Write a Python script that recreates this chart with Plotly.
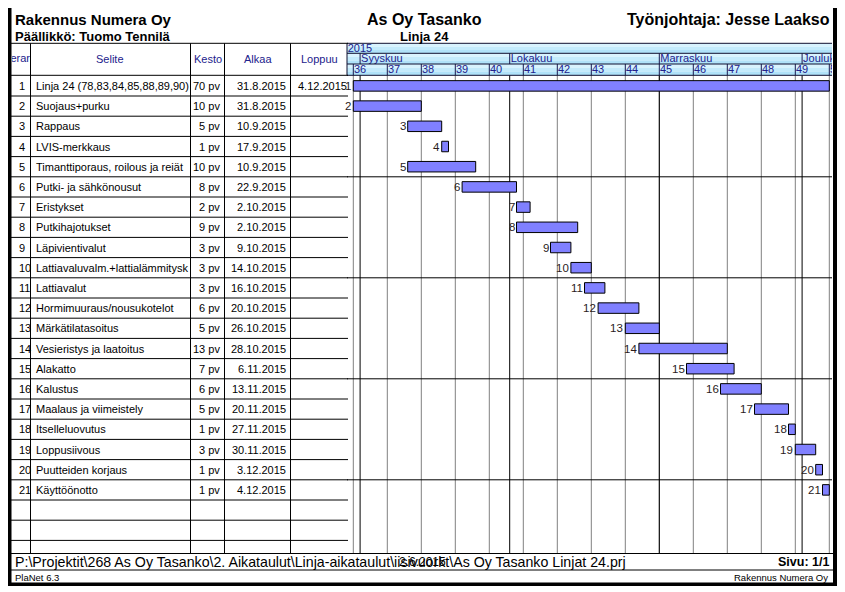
import numpy as np
import plotly.graph_objects as go
from datetime import date

# ---------------- data ----------------
row_ids = list(range(1, 22))
tasks = [
    "Linja 24 (78,83,84,85,88,89,90)", "Suojaus+purku", "Rappaus", "LVIS-merkkaus",
    "Timanttiporaus, roilous ja reiät", "Putki- ja sähkönousut", "Eristykset",
    "Putkihajotukset", "Läpivientivalut", "Lattiavaluvalm.+lattialämmitysk",
    "Lattiavalut", "Hormimuuraus/nousukotelot", "Märkätilatasoitus",
    "Vesieristys ja laatoitus", "Alakatto", "Kalustus", "Maalaus ja viimeistely",
    "Itselleluovutus", "Loppusiivous", "Puutteiden korjaus", "Käyttöönotto",
]
durations = [70, 10, 5, 1, 10, 8, 2, 9, 3, 3, 3, 6, 5, 13, 7, 6, 5, 1, 3, 1, 1]
start_dates = [
    "31.8.2015", "31.8.2015", "10.9.2015", "17.9.2015", "10.9.2015", "22.9.2015",
    "2.10.2015", "2.10.2015", "9.10.2015", "14.10.2015", "16.10.2015", "20.10.2015",
    "26.10.2015", "28.10.2015", "6.11.2015", "13.11.2015", "20.11.2015", "27.11.2015",
    "30.11.2015", "3.12.2015", "4.12.2015",
]
end_dates = ["4.12.2015"] + [""] * 20
column_headers = ["Hierarkia", "Selite", "Kesto", "Alkaa", "Loppuu"]
year_label = "2015"
month_labels = ["Syyskuu", "Lokakuu", "Marraskuu", "Joulukuu"]
month_first_days = ["1.9.2015", "1.10.2015", "1.11.2015", "1.12.2015"]
week_labels = ["36", "37", "38", "39", "40", "41", "42", "43", "44", "45",
               "46", "47", "48", "49", "50"]
duration_unit = "pv"

title_left = "Rakennus Numera Oy"
subtitle_left = "Päällikkö: Tuomo Tennilä"
title_center = "As Oy Tasanko"
subtitle_center = "Linja 24"
title_right = "Työnjohtaja: Jesse Laakso"
footer_path = "P:\\Projektit\\268 As Oy Tasanko\\2. Aikataulut\\Linja-aikataulut\\iisivuorkt\\As Oy Tasanko Linjat 24.prj"
footer_date = "2.6.2015"
footer_page = "Sivu: 1/1"
footer_app = "PlaNet 6.3"
footer_company = "Rakennus Numera Oy"

# ---------------- helpers ----------------
def to_date(s):
    d, m, y = (int(v) for v in s.split("."))
    return np.datetime64(date(y, m, d), "D")

origin = to_date(start_dates[0])

def workday(dt):
    return int(np.busday_count(origin, dt))

start_idx = [workday(to_date(s)) for s in start_dates]
week_idx = [workday(np.datetime64(date.fromisocalendar(int(year_label), int(w), 1), "D"))
            for w in week_labels]
month_idx = [workday(to_date(s)) for s in month_first_days]

# ---------------- geometry (screen pixels) ----------------
OFF = 8                      # page body margin of the browser
FW, FH = 845 - OFF, 592 - OFF
FONT = "Liberation Sans, Arial, sans-serif"
NAVY = "#22228c"
GX0, GX1 = 347.0, 832.0
DAY0_PX, DAY_PX = 353.3, 6.8
ROW_TOP, ROW_H = 75.8, 20.2
HDR_TOP, HDR_M, HDR_W, HDR_BOT = 43.3, 53.3, 64.0, 75.3
BODY_BOT = 553.5
TBL_X1 = 348.0

def dx(p):
    return (p - OFF) / FW

def dy(p):
    return 1 - (p - OFF) / FH

def ru(p):
    return (p - ROW_TOP) / ROW_H + 0.5

def row_px(k):
    return ROW_TOP + (k - 0.5) * ROW_H

x_range = [(GX0 - DAY0_PX) / DAY_PX, (GX1 - DAY0_PX) / DAY_PX]
y_range = [ru(BODY_BOT), ru(HDR_TOP)]

fig = go.Figure()

# bars
fig.add_trace(go.Bar(
    y=row_ids, x=durations, base=start_idx, orientation="h", width=0.52,
    marker=dict(color="#8080ff", line=dict(color="black", width=1)),
    xaxis="x", yaxis="y", hoverinfo="skip", showlegend=False,
))

# header labels of gantt (clipped to gantt area)
hdr_x = [x_range[0] + 0.1] + [m + 0.15 for m in month_idx] + [w + 0.1 for w in week_idx]
hdr_y = [ru((HDR_TOP + HDR_M) / 2 + 0.5)] + [ru((HDR_M + HDR_W) / 2 + 0.3)] * len(month_idx) + \
        [ru((HDR_W + HDR_BOT) / 2 + 0.2)] * len(week_idx)
hdr_t = [year_label] + month_labels + week_labels
fig.add_trace(go.Scatter(
    x=hdr_x, y=hdr_y, text=hdr_t, mode="text", textposition="middle right",
    textfont=dict(family=FONT, size=11, color=NAVY), cliponaxis=True,
    xaxis="x", yaxis="y", hoverinfo="skip", showlegend=False,
))

# pixel overlay axis
fig.add_trace(go.Scatter(x=[OFF], y=[OFF], mode="markers", marker=dict(opacity=0),
                         xaxis="x2", yaxis="y2", hoverinfo="skip", showlegend=False))

# clipped first column header
fig.add_trace(go.Scatter(
    x=[22], y=[(HDR_TOP + HDR_BOT) / 2], text=[column_headers[0]], mode="text",
    textposition="middle center", textfont=dict(family=FONT, size=11, color=NAVY),
    cliponaxis=True, xaxis="x3", yaxis="y3", hoverinfo="skip", showlegend=False,
))

shapes = []
annotations = []

def pline(x0, y0, x1, y1, color="black", width=1, layer="above"):
    shapes.append(dict(type="line", xref="x2", yref="y2", x0=x0, y0=y0, x1=x1, y1=y1,
                       line=dict(color=color, width=width), layer=layer))

def prect(x0, y0, x1, y1, fill, layer="above"):
    shapes.append(dict(type="rect", xref="x2", yref="y2", x0=x0, y0=y0, x1=x1, y1=y1,
                       fillcolor=fill, line=dict(width=0), layer=layer))

def ptext(x, y, text, anchor="left", size=11, color="black", bold=False):
    annotations.append(dict(xref="x2", yref="y2", x=x, y=y, text=("<b>%s</b>" % text) if bold else text,
                            showarrow=False, xanchor=anchor, yanchor="middle",
                            font=dict(family=FONT, size=size, color=color)))

# gantt header background strips (inside gantt subplot, beneath its texts)
strip_cols = ["#d8f3fe", "#c4ebfc", "#b0e2f9"]
for (a, b) in [(HDR_TOP, HDR_M), (HDR_M, HDR_W), (HDR_W, HDR_BOT)]:
    n = len(strip_cols)
    for i, c in enumerate(strip_cols):
        shapes.append(dict(type="rect", xref="x", yref="y", x0=x_range[0], x1=x_range[1],
                           y0=ru(a + (b - a) * i / n), y1=ru(a + (b - a) * (i + 1) / n),
                           fillcolor=c, line=dict(width=0), layer="below"))

# body grid (gantt coords)
for w in week_idx:
    shapes.append(dict(type="line", xref="x", yref="y", x0=w, x1=w, y0=ru(HDR_BOT), y1=ru(BODY_BOT),
                       line=dict(color="#808080", width=1), layer="below"))
    shapes.append(dict(type="line", xref="x", yref="y", x0=w, x1=w, y0=ru(HDR_W), y1=ru(HDR_BOT),
                       line=dict(color="#1a1a50", width=1), layer="below"))
for m in month_idx:
    shapes.append(dict(type="line", xref="x", yref="y", x0=m, x1=m, y0=ru(HDR_BOT), y1=ru(BODY_BOT),
                       line=dict(color="black", width=1), layer="below"))
    shapes.append(dict(type="line", xref="x", yref="y", x0=m, x1=m, y0=ru(HDR_M), y1=ru(HDR_W),
                       line=dict(color="#1a1a50", width=1), layer="below"))
for k in [5, 10, 15, 20]:
    shapes.append(dict(type="line", xref="x", yref="y", x0=x_range[0], x1=x_range[1],
                       y0=k + 0.5, y1=k + 0.5, line=dict(color="black", width=1), layer="below"))

# gantt header lines
for yy in [HDR_TOP, HDR_M, HDR_W, HDR_BOT]:
    pline(GX0, yy, GX1, yy, color="#101030")
pline(GX0, HDR_TOP, GX0, HDR_BOT, color="#101030")

# table lines
pline(11, HDR_TOP, TBL_X1, HDR_TOP)
pline(11, HDR_BOT, TBL_X1, HDR_BOT)
for k in range(1, 24):
    yy = ROW_TOP + k * ROW_H
    pline(11, yy, TBL_X1, yy)
for xx in [30.5, 190.5, 224.5, 290.5]:
    pline(xx, HDR_TOP, xx, BODY_BOT)

# table header text
hy = (HDR_TOP + HDR_BOT) / 2
for cx, t in zip([110, 207.5, 257.5, 319], column_headers[1:]):
    ptext(cx, hy, t, anchor="center", color=NAVY)

# table rows
BODY_FS = 11
for i, rid in enumerate(row_ids):
    y = row_px(rid)
    ptext(16.5, y, str(rid), anchor="left", size=BODY_FS)
    ptext(33.5, y, tasks[i], anchor="left", size=BODY_FS)
    ptext(222, y, "%d %s" % (durations[i], duration_unit), anchor="right", size=BODY_FS)
    ptext(288, y, start_dates[i], anchor="right", size=BODY_FS)
    if end_dates[i]:
        ptext(349, y, end_dates[i], anchor="right", size=BODY_FS)

# bar number labels
for i, rid in enumerate(row_ids):
    annotations.append(dict(xref="x", yref="y", x=start_idx[i], y=rid, text=str(rid),
                            showarrow=False, xanchor="right", yanchor="middle", xshift=0,
                            font=dict(family=FONT, size=11.5, color="#2a1c1c")))

# titles
ptext(13, 19, title_left, size=15, bold=True)
ptext(13, 36, subtitle_left, size=13, bold=True)
ptext(424, 19, title_center, size=16, bold=True, anchor="center")
ptext(424, 36, subtitle_center, size=13, bold=True, anchor="center")
ptext(832, 19, title_right, size=16, bold=True, anchor="right")

# footer
pline(11, BODY_BOT, 833, BODY_BOT)
pline(11, 570, 833, 570)
ptext(13, 562, footer_path, size=14.2)
ptext(422, 562, footer_date, size=12, anchor="center")
ptext(831, 562, footer_page, size=12.5, bold=True, anchor="right")
ptext(13, 577.5, footer_app, size=9.5)
ptext(830, 577.5, footer_company, size=9.5, anchor="right")

# page frame
prect(8, 4, 11.5, 586, "black")
prect(833, 4, 838, 586, "black")
prect(8, 4, 838, 7.5, "black")
prect(8, 582.5, 838, 586, "black")

hidden = dict(showgrid=False, zeroline=False, showticklabels=False, showline=False, ticks="")
fig.update_layout(
    width=FW, height=FH, margin=dict(l=0, r=0, t=0, b=0),
    paper_bgcolor="white", plot_bgcolor="rgba(0,0,0,0)", showlegend=False,
    barmode="overlay",
    xaxis=dict(domain=[dx(GX0), dx(GX1)], range=x_range, anchor="y", fixedrange=True, **hidden),
    yaxis=dict(domain=[dy(BODY_BOT), dy(HDR_TOP)], range=y_range, anchor="x",
               fixedrange=True, **hidden),
    xaxis2=dict(domain=[0, 1], range=[OFF, OFF + FW], anchor="y2", fixedrange=True, **hidden),
    yaxis2=dict(domain=[0, 1], range=[OFF + FH, OFF], anchor="x2", fixedrange=True, **hidden),
    xaxis3=dict(domain=[dx(12), dx(30)], range=[12, 30], anchor="y3", fixedrange=True, **hidden),
    yaxis3=dict(domain=[dy(HDR_BOT), dy(HDR_TOP)], range=[HDR_BOT, HDR_TOP], anchor="x3",
                fixedrange=True, **hidden),
    shapes=shapes, annotations=annotations,
)
fig.write_html("out.html")
